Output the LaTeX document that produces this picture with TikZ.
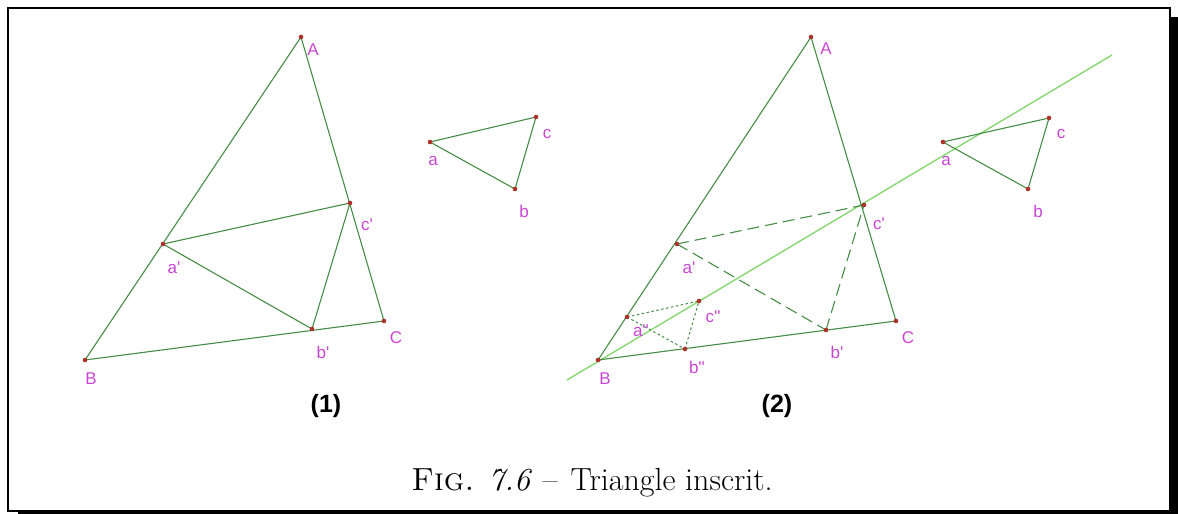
\documentclass[tikz,border=0pt]{standalone}
\usepackage{fontspec}
\newfontfamily\labfont{Liberation Sans}
\definecolor{labc}{RGB}{200,70,210}
\definecolor{segc}{RGB}{70,140,70}
\definecolor{lgreen}{RGB}{135,215,115}
\definecolor{ptc}{RGB}{170,50,40}
\tikzset{
  seg/.style={draw=segc, line width=1.1pt},
  dseg/.style={draw=segc, line width=1.1pt, dash pattern=on 12pt off 6pt},
  oseg/.style={draw=segc, line width=1pt, dash pattern=on 2.5pt off 2.5pt},
  lab/.style={text=labc, font=\labfont\fontsize{17}{17}\selectfont, inner sep=0pt},
  num/.style={font=\labfont\bfseries\fontsize{25}{25}\selectfont, inner sep=0pt},
  dot/.style={fill=ptc}
}
\begin{document}
\begin{tikzpicture}[x=1pt,y=-1pt]
\useasboundingbox (0,0) rectangle (1178,514);
% frame with shadow
\draw[line width=2pt] (7.5,7.5) rectangle (1170,510.5);
\fill (1170,17) rectangle (1178,514);
\fill (18,510) rectangle (1178,514);

% ---------- figure (1)
\coordinate (A1) at (301,37);
\coordinate (B1) at (85,360);
\coordinate (C1) at (384,321);
\coordinate (a1p) at (163,244);
\coordinate (b1p) at (312,329);
\coordinate (c1p) at (350,203);
\coordinate (sa1) at (430,142);
\coordinate (sb1) at (515,189);
\coordinate (sc1) at (536,117);
\draw[seg] (A1) -- (B1) -- (C1) -- cycle;
\draw[seg] (a1p) -- (b1p) -- (c1p) -- cycle;
\draw[seg] (sa1) -- (sb1) -- (sc1) -- cycle;
\foreach \p in {A1,B1,C1,a1p,b1p,c1p,sa1,sb1,sc1} \fill[dot] (\p) circle (2.3);
\node[lab] (lA1) at (313,50) {A};
\node[lab] (lB1) at (91,379) {B};
\node[lab] (lC1) at (396,338) {C};
\node[lab] (la1p) at (174,268) {a'};
\node[lab] (lb1p) at (323,352) {b'};
\node[lab] (lc1p) at (367,225) {c'};
\node[lab] (lsa1) at (433,161) {a};
\node[lab] (lsb1) at (524,211) {b};
\node[lab] (lsc1) at (547,134) {c};
\node[num] (n1) at (326,406) {(1)};

% ---------- figure (2)
\coordinate (A2) at (811,37);
\coordinate (B2) at (598,360);
\coordinate (C2) at (896,321);
\coordinate (a2p) at (677,244);
\coordinate (b2p) at (826,330);
\coordinate (c2p) at (864,205);
\coordinate (a2s) at (627,317);
\coordinate (b2s) at (685,349);
\coordinate (c2s) at (699,301);
\coordinate (sa2) at (943,142);
\coordinate (sb2) at (1028,189);
\coordinate (sc2) at (1049,118);
\coordinate (L1) at (567,380);
\coordinate (L2) at (1112,55);
\draw[lgreen, line width=1.4pt] (L1) -- (L2);
\draw[seg] (A2) -- (B2) -- (C2) -- cycle;
\draw[dseg] (a2p) -- (c2p);
\draw[dseg] (a2p) -- (b2p);
\draw[dseg] (b2p) -- (c2p);
\draw[oseg] (a2s) -- (c2s);
\draw[oseg] (a2s) -- (b2s);
\draw[oseg] (b2s) -- (c2s);
\draw[seg] (sa2) -- (sb2) -- (sc2) -- cycle;
\foreach \p in {A2,B2,C2,a2p,b2p,c2p,a2s,b2s,c2s,sa2,sb2,sc2} \fill[dot] (\p) circle (2.3);
\node[lab] (lA2) at (826,49) {A};
\node[lab] (lB2) at (605,379) {B};
\node[lab] (lC2) at (908,338) {C};
\node[lab] (la2p) at (689,268) {a'};
\node[lab] (lb2p) at (837,352) {b'};
\node[lab] (lc2p) at (879,224) {c'};
\node[lab] (la2s) at (641,331) {a''};
\node[lab] (lb2s) at (697,367) {b''};
\node[lab] (lc2s) at (713,317) {c''};
\node[lab] (lsa2) at (946,161) {a};
\node[lab] (lsb2) at (1038,211) {b};
\node[lab] (lsc2) at (1061,134) {c};
\node[num] (n2) at (777,406) {(2)};

% caption
\node[font=\fontsize{32}{36}\selectfont, inner sep=0pt] (cap) at (592,483)
  {{\scshape Fig.}\hspace{14pt}\textit{7.6}\hspace{11pt}--\hspace{13pt}Triangle inscrit.};
\end{tikzpicture}
\end{document}
